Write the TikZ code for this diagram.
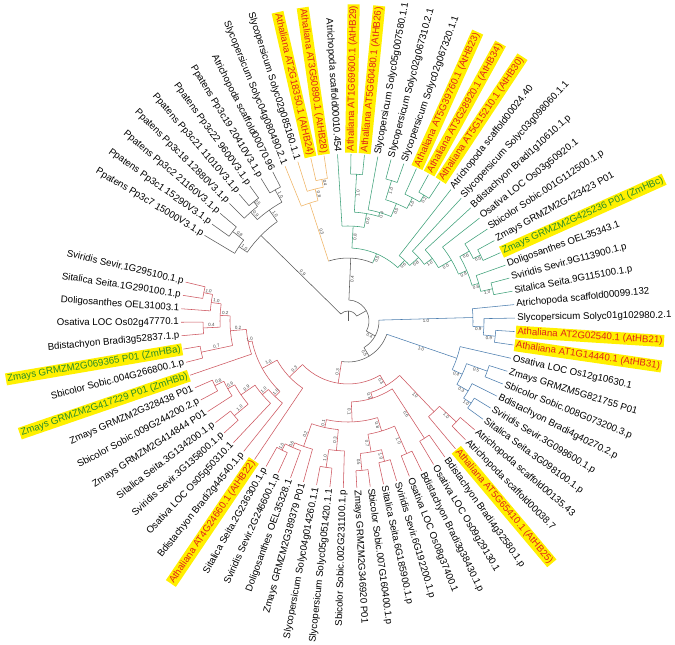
\documentclass[tikz,border=0pt]{standalone}
\usepackage{fontspec}
\setmainfont{Liberation Sans}
\definecolor{cg}{RGB}{90,90,90}
\definecolor{co}{RGB}{240,180,100}
\definecolor{cn}{RGB}{60,160,120}
\definecolor{cb}{RGB}{75,125,175}
\definecolor{cr}{RGB}{205,85,95}
\definecolor{hl}{RGB}{255,240,0}
\definecolor{tr}{RGB}{225,35,25}
\definecolor{tg}{RGB}{40,140,40}
\newcounter{nn}
\newcommand\Brad[4]{\draw[#1] (#2:#3) -- (#2:#4);}
\newcommand\Barc[4]{\draw[#1] (#3:#2) arc[start angle=#3, end angle=#4, radius=#2];}
\newcommand\LeafR[5]{\draw[#1] (#2:#3) -- (#2:167);\stepcounter{nn}\node[lab,#5,rotate=#2,anchor=west] (n\arabic{nn}) at (#2:168) {#4};}
\newcommand\LeafL[5]{\draw[#1] (#2:#3) -- (#2:167);\stepcounter{nn}\node[lab,#5,rotate=#2+180,anchor=east] (n\arabic{nn}) at (#2:168) {#4};}
\newcommand\SupR[3]{\stepcounter{nn}\node[sup,rotate=#1,anchor=north] (n\arabic{nn}) at (#1:#2) {#3};}
\newcommand\SupL[3]{\stepcounter{nn}\node[sup,rotate=#1+180,anchor=south] (n\arabic{nn}) at (#1:#2) {#3};}
\tikzset{
 lab/.style={font=\fontsize{9.7}{10}\selectfont, inner sep=1pt},
 hr/.style={fill=hl,text=tr,inner sep=1.5pt},
 hg/.style={fill=hl,text=tg,inner sep=1.5pt},
 sup/.style={font=\fontsize{4.5}{5}\selectfont, text=black!75, inner sep=0.6pt},
}
\begin{document}
\begin{tikzpicture}[x=1pt,y=1pt,line width=0.55pt]
\useasboundingbox (0,0) rectangle (675,645);
\fill[white] (0,0) rectangle (675,645);
\begin{scope}[shift={(348,324)}]
% root
\draw[cg] (90:0) -- (90:10);
\Barc{cg}{10}{29.4}{135.5}
\Brad{cg}{135.5}{10}{122} \SupL{135.5}{66}{0.9}
\Brad{cg}{29.4}{10}{21}
% gray clade
\Barc{cg}{122}{125.4}{145.7}
\Brad{cg}{145.7}{122}{132} \SupL{145.7}{127}{1.0}
\Barc{cg}{132}{142.2}{149.16}
\Brad{cg}{142.2}{132}{146} \SupL{142.2}{139}{0.8}
\Barc{cg}{146}{139.9}{144.53}
\Brad{cg}{125.4}{122}{136} \SupL{125.4}{129}{1.0}
\Barc{cg}{136}{119.07}{131.8}
\Brad{cg}{131.8}{136}{146} \SupL{131.8}{141}{0.9}
\Barc{cg}{146}{128.3}{135.27}
\Brad{cg}{128.3}{146}{152} \SupL{128.3}{149}{0.5}
\Barc{cg}{152}{126.01}{130.64}
\Brad{cg}{119.07}{136}{150} \SupL{119.07}{143}{1.0}
\Barc{cg}{150}{116.75}{121.38}
\LeafL{cg}{149.16}{132}{Ppatens Pp3c7 15000V3.1.p}{}
\LeafL{cg}{144.53}{146}{Ppatens Pp3c1 15290V3.1.p}{}
\LeafL{cg}{139.90}{146}{Ppatens Pp3c2 21160V3.1.p}{}
\LeafL{cg}{135.27}{146}{Ppatens Pp3c18 12880V3.1.p}{}
\LeafL{cg}{130.64}{152}{Ppatens Pp3c21 11010V3.1.p}{}
\LeafL{cg}{126.01}{152}{Ppatens Pp3c22 9600V3.1.p}{}
\LeafL{cg}{121.38}{150}{Ppatens Pp3c19 20410V3.1.p}{}
\LeafL{cg}{116.75}{150}{Atrichopoda scaffold00070.96}{}
% N1 and B1
\Barc{cg}{21}{-28.7}{87.5}
\Brad{cg}{87.5}{21}{63} \SupR{87.5}{42}{0.4}
\Barc{cg}{63}{67}{108}
% orange
\Brad{co}{108}{63}{124} \SupL{108}{93}{0.3}
\Barc{co}{124}{104}{112.12}
\Brad{co}{104}{124}{136} \SupL{104}{130}{0.8}
\Barc{co}{136}{100.5}{107.49}
\Brad{co}{100.5}{136}{144} \SupL{100.5}{140}{0.4}
\Barc{co}{144}{98.23}{102.86}
\LeafL{co}{112.12}{124}{Slycopersicum Solyc04g080490.2.1}{}
\LeafL{co}{107.49}{136}{Slycopersicum Solyc02g085160.1.1}{}
\LeafL{co}{102.86}{144}{Athaliana AT2G18350.1 (AtHB24)}{hr}
\LeafL{co}{98.23}{144}{Athaliana AT3G50890.1 (AtHB28)}{hr}
% green
\Brad{cn}{67}{63}{73} \SupR{67}{68}{0.5}
\Barc{cn}{73}{47}{86.9}
\Brad{cn}{86.9}{73}{95} \SupR{86.9}{84}{0.8}
\Barc{cn}{95}{80.2}{93.6}
\Brad{cn}{80.2}{95}{109} \SupR{80.2}{102}{0.6}
\Barc{cn}{109}{73.7}{86.66}
\Brad{cn}{86.66}{109}{147} \SupR{86.66}{128}{1.0}
\Barc{cn}{147}{84.34}{88.97}
\Brad{cn}{73.7}{109}{113} \SupR{73.7}{111}{0.4}
\Barc{cn}{113}{67.6}{79.71}
\Brad{cn}{67.6}{113}{127} \SupR{67.6}{120}{0.5}
\Barc{cn}{127}{62.4}{72.77}
\Brad{cn}{72.77}{127}{147} \SupR{72.77}{137}{1.0}
\Barc{cn}{147}{70.45}{75.08}
\Brad{cn}{62.4}{127}{139} \SupR{62.4}{133}{1.0}
\Barc{cn}{139}{58.9}{65.82}
\Brad{cn}{58.9}{139}{147} \SupR{58.9}{143}{0.2}
\Barc{cn}{147}{56.56}{61.19}
\LeafL{cn}{93.60}{95}{Atrichopoda scaffold00010.454}{}
\LeafR{cn}{88.97}{147}{Athaliana AT1G69600.1 (AtHB29)}{hr}
\LeafR{cn}{84.34}{147}{Athaliana AT5G60480.1 (AtHB26)}{hr}
\LeafR{cn}{79.71}{113}{Slycopersicum Solyc05g007580.1.1}{}
\LeafR{cn}{75.08}{147}{Slycopersicum Solyc02g067310.2.1}{}
\LeafR{cn}{70.45}{147}{Slycopersicum Solyc02g067320.1.1}{}
\LeafR{cn}{65.82}{139}{Athaliana AT5G39760.1 (AtHB23)}{hr}
\LeafR{cn}{61.19}{147}{Athaliana AT3G28920.1 (AtHB34)}{hr}
\LeafR{cn}{56.56}{147}{Athaliana AT5G15210.1 (AtHB30)}{hr}
\Brad{cn}{47}{73}{83} \SupR{47}{78}{0.6}
\Barc{cn}{83}{42}{51.93}
\Brad{cn}{42}{83}{95} \SupR{42}{89}{0.8}
\Barc{cn}{95}{36.6}{47.3}
\Brad{cn}{36.6}{95}{105} \SupR{36.6}{100}{1.0}
\Barc{cn}{105}{30.5}{42.67}
\Brad{cn}{30.5}{105}{120} \SupR{30.5}{112}{0.5}
\Barc{cn}{120}{23}{38.04}
\Brad{cn}{23}{120}{129} \SupR{23}{124.5}{0.8}
\Barc{cn}{129}{16.05}{29.94}
\Brad{cn}{29.94}{129}{140} \SupR{29.94}{134.5}{0.6}
\Barc{cn}{140}{26.47}{33.41}
\Brad{cn}{26.47}{140}{148} \SupR{26.47}{144}{0.5}
\Barc{cn}{148}{24.15}{28.78}
\Brad{cn}{16.05}{129}{136} \SupR{16.05}{132.5}{0.6}
\Barc{cn}{136}{12.58}{19.52}
\Brad{cn}{12.58}{136}{148} \SupR{12.58}{142}{1.0}
\Barc{cn}{148}{10.26}{14.89}
\LeafR{cn}{51.93}{83}{Atrichopoda scaffold00024.40}{}
\LeafR{cn}{47.30}{95}{Slycopersicum Solyc03g098060.1.1}{}
\LeafR{cn}{42.67}{105}{Bdistachyon Bradi1g10610.1.p}{}
\LeafR{cn}{38.04}{120}{Osativa LOC Os03g50920.1}{}
\LeafR{cn}{33.41}{140}{Sbicolor Sobic.001G112500.1.p}{}
\LeafR{cn}{28.78}{148}{Zmays GRMZM2G423423 P01}{}
\LeafR{cn}{24.15}{148}{Zmays GRMZM2G425236 P01 (ZmHBc)}{hg}
\LeafR{cn}{19.52}{136}{Doligosanthes OEL35343.1}{}
\LeafR{cn}{14.89}{148}{Sviridis Sevir.9G113900.1.p}{}
\LeafR{cn}{10.26}{148}{Sitalica Seita.9G115100.1.p}{}
% blue
\Brad{cg}{-28.7}{21}{31} \SupR{-28.7}{26}{0.4}
\Barc{cg}{31}{-59}{1.6}
\Brad{cb}{1.6}{31}{125} \SupR{1.6}{78}{1.0}
\Barc{cb}{125}{-2.5}{5.63}
\Brad{cb}{-2.5}{125}{136} \SupR{-2.5}{130.5}{0.9}
\Barc{cb}{136}{-5.9}{1.0}
\Brad{cb}{-5.9}{136}{148} \SupR{-5.9}{142}{0.9}
\Barc{cb}{148}{-8.26}{-3.63}
\Brad{cg}{-59}{31}{41} \SupR{-59}{36}{0.5}
\Barc{cg}{41}{-99}{-18.9}
\Brad{cb}{-18.9}{41}{115} \SupR{-18.9}{78}{1.0}
\Barc{cb}{115}{-25}{-12.89}
\Brad{cb}{-25}{115}{126} \SupR{-25}{120.5}{0.4}
\Barc{cb}{126}{-30.2}{-19.8}
\Brad{cb}{-19.8}{126}{148} \SupR{-19.8}{137}{0.5}
\Barc{cb}{148}{-22.15}{-17.52}
\Brad{cb}{-30.2}{126}{139} \SupR{-30.2}{132.5}{0.3}
\Barc{cb}{139}{-33.7}{-26.78}
\Brad{cb}{-33.7}{139}{148} \SupR{-33.7}{143.5}{1.0}
\Barc{cb}{148}{-36.04}{-31.41}
\LeafR{cb}{5.63}{125}{Atrichopoda scaffold00099.132}{}
\LeafR{cb}{1.00}{136}{Slycopersicum Solyc01g102980.2.1}{}
\LeafR{cb}{-3.63}{148}{Athaliana AT2G02540.1 (AtHB21)}{hr}
\LeafR{cb}{-8.26}{148}{Athaliana AT1G14440.1 (AtHB31)}{hr}
\LeafR{cb}{-12.89}{115}{Osativa LOC Os12g10630.1}{}
\LeafR{cb}{-17.52}{148}{Zmays GRMZM5G821755 P01}{}
\LeafR{cb}{-22.15}{148}{Sbicolor Sobic.008G073200.3.p}{}
\LeafR{cb}{-26.78}{139}{Bdistachyon Bradi4g40270.2.p}{}
\LeafR{cb}{-31.41}{148}{Sviridis Sevir.3G098600.1.p}{}
\LeafR{cb}{-36.04}{148}{Sitalica Seita.3G098100.1.p}{}
% red
\Brad{cr}{-99}{41}{63} \SupL{-99}{52}{0.3}
\Barc{cr}{63}{-136.3}{-59.4}
\Brad{cr}{-59.4}{63}{75} \SupR{-59.4}{69}{0.3}
\Barc{cr}{75}{-72.3}{-46.5}
\Brad{cr}{-46.5}{75}{125} \SupR{-46.5}{100}{1.0}
\Barc{cr}{125}{-49.93}{-43}
\Brad{cr}{-43}{125}{148} \SupR{-43}{136.5}{1.0}
\Barc{cr}{148}{-45.3}{-40.67}
\Brad{cr}{-72.3}{75}{81} \SupR{-72.3}{78}{0.8}
\Barc{cr}{81}{-87.65}{-56.9}
\Brad{cr}{-56.9}{81}{140} \SupR{-56.9}{110}{0.6}
\Barc{cr}{140}{-59.19}{-54.56}
\Brad{cr}{-87.65}{81}{101} \SupR{-87.65}{91}{0.1}
\Barc{cr}{101}{-102.3}{-73}
\Brad{cr}{-73}{101}{115} \SupR{-73}{108}{0.8}
\Barc{cr}{115}{-80}{-66.1}
\Brad{cr}{-66.1}{115}{145} \SupR{-66.1}{130}{1.0}
\Barc{cr}{145}{-68.45}{-63.82}
\Brad{cr}{-80}{115}{133} \SupR{-80}{124}{0.7}
\Barc{cr}{133}{-84.7}{-75.4}
\Brad{cr}{-75.4}{133}{145} \SupR{-75.4}{139}{1.0}
\Barc{cr}{145}{-77.71}{-73.08}
\Brad{cr}{-84.7}{133}{150} \SupR{-84.7}{141.5}{0.5}
\Barc{cr}{150}{-86.97}{-82.34}
\Brad{cr}{-102.3}{101}{109} \SupL{-102.3}{105}{0.1}
\Barc{cr}{109}{-109.5}{-95.1}
\Brad{cr}{-95.1}{109}{130} \SupL{-95.1}{119.5}{0.3}
\Barc{cr}{130}{-98.5}{-91.6}
\Brad{cr}{-98.5}{130}{148} \SupL{-98.5}{139}{1.0}
\Barc{cr}{148}{-100.86}{-96.23}
\Brad{cr}{-109.5}{109}{133} \SupL{-109.5}{121}{0.2}
\Barc{cr}{133}{-113.6}{-105.49}
\Brad{cr}{-113.6}{133}{138} \SupL{-113.6}{135.5}{0.6}
\Barc{cr}{138}{-117.07}{-110.12}
\Brad{cr}{-117.07}{138}{145} \SupL{-117.07}{141.5}{1.0}
\Barc{cr}{145}{-119.38}{-114.75}
\LeafR{cr}{-40.67}{148}{Atrichopoda scaffold00135.43}{}
\LeafR{cr}{-45.30}{148}{Atrichopoda scaffold00038.7}{}
\LeafR{cr}{-49.93}{125}{Athaliana AT5G65410.1 (AtHB25)}{hr}
\LeafR{cr}{-54.56}{140}{Bdistachyon Bradi4g32580.1.p}{}
\LeafR{cr}{-59.19}{140}{Osativa LOC Os09g29130.1}{}
\LeafR{cr}{-63.82}{145}{Bdistachyon Bradi3g38430.1.p}{}
\LeafR{cr}{-68.45}{145}{Osativa LOC Os08g37400.1}{}
\LeafR{cr}{-73.08}{145}{Sviridis Sevir.6G192200.1.p}{}
\LeafR{cr}{-77.71}{145}{Sitalica Seita.6G185900.1.p}{}
\LeafR{cr}{-82.34}{150}{Sbicolor Sobic.007G160400.1.p}{}
\LeafR{cr}{-86.97}{150}{Zmays GRMZM2G346920 P01}{}
\LeafL{cr}{-91.60}{130}{Sbicolor Sobic.002G231100.1.p}{}
\LeafL{cr}{-96.23}{148}{Slycopersicum Solyc05g051420.1.1}{}
\LeafL{cr}{-100.86}{148}{Slycopersicum Solyc04g014260.1.1}{}
\LeafL{cr}{-105.49}{133}{Zmays GRMZM2G389379 P01}{}
\LeafL{cr}{-110.12}{138}{Doligosanthes OEL35328.1}{}
\LeafL{cr}{-114.75}{145}{Sviridis Sevir.2G246600.1.p}{}
\LeafL{cr}{-119.38}{145}{Sitalica Seita.2G236300.1.p}{}
\Brad{cr}{-136.3}{63}{81} \SupL{-136.3}{72}{0.3}
\Barc{cr}{81}{-151.1}{-124.01}
\Brad{cr}{-151.1}{81}{98} \SupL{-151.1}{89.5}{1.0}
\Barc{cr}{98}{-168.2}{-134}
\Brad{cr}{-134}{98}{105} \SupL{-134}{101.5}{1.0}
\Barc{cr}{105}{-139.3}{-128.64}
\Brad{cr}{-139.3}{105}{113} \SupL{-139.3}{109}{1.0}
\Barc{cr}{113}{-145.4}{-133.27}
\Brad{cr}{-145.4}{113}{130} \SupL{-145.4}{121.5}{0.9}
\Barc{cr}{130}{-150.6}{-140.2}
\Brad{cr}{-140.2}{130}{148} \SupL{-140.2}{139}{1.0}
\Barc{cr}{148}{-142.53}{-137.9}
\Brad{cr}{-150.6}{130}{138} \SupL{-150.6}{134}{0.9}
\Barc{cr}{138}{-154.1}{-147.16}
\Brad{cr}{-154.1}{138}{148} \SupL{-154.1}{143}{0.8}
\Barc{cr}{148}{-156.42}{-151.79}
\Brad{cr}{-168.2}{98}{102} \SupL{-168.2}{100}{1.0}
\Barc{cr}{102}{-175.25}{-161.05}
\Brad{cr}{-175.25}{102}{118} \SupL{-175.25}{110}{0.2}
\Barc{cr}{118}{-182.5}{-168}
\Brad{cr}{-168}{118}{150} \SupL{-168}{134}{0.7}
\Barc{cr}{150}{-170.31}{-165.68}
\Brad{cr}{-182.5}{118}{128} \SupL{-182.5}{123}{0.2}
\Barc{cr}{128}{-187.7}{-177.25}
\Brad{cr}{-177.25}{128}{145} \SupL{-177.25}{136.5}{0.4}
\Barc{cr}{145}{-179.57}{-174.94}
\Brad{cr}{-187.7}{128}{138} \SupL{-187.7}{133}{1.0}
\Barc{cr}{138}{-191.1}{-184.2}
\Brad{cr}{-191.1}{138}{147} \SupL{-191.1}{142.5}{1.0}
\Barc{cr}{147}{-193.46}{-188.83}
\LeafL{cr}{-124.01}{81}{Athaliana AT4G24660.1 (AtHB22)}{hr}
\LeafL{cr}{-128.64}{105}{Bdistachyon Bradi2g44540.1.p}{}
\LeafL{cr}{-133.27}{113}{Osativa LOC Os05g50310.1}{}
\LeafL{cr}{-137.90}{148}{Sviridis Sevir.3G135800.1.p}{}
\LeafL{cr}{-142.53}{148}{Sitalica Seita.3G134200.1.p}{}
\LeafL{cr}{-147.16}{138}{Zmays GRMZM2G414844 P01}{}
\LeafL{cr}{-151.79}{148}{Sbicolor Sobic.009G244200.2.p}{}
\LeafL{cr}{-156.42}{148}{Zmays GRMZM2G328438 P01}{}
\LeafL{cr}{-161.05}{102}{Zmays GRMZM2G417229 P01 (ZmHBb)}{hg}
\LeafL{cr}{-165.68}{150}{Sbicolor Sobic.004G266800.1.p}{}
\LeafL{cr}{-170.31}{150}{Zmays GRMZM2G069365 P01 (ZmHBa)}{hg}
\LeafL{cr}{-174.94}{145}{Bdistachyon Bradi3g52837.1.p}{}
\LeafL{cr}{-179.57}{145}{Osativa LOC Os02g47770.1}{}
\LeafL{cr}{-184.20}{138}{Doligosanthes OEL31003.1}{}
\LeafL{cr}{-188.83}{147}{Sitalica Seita.1G290100.1.p}{}
\LeafL{cr}{-193.46}{147}{Sviridis Sevir.1G295100.1.p}{}
\end{scope}
\end{tikzpicture}
\end{document}
